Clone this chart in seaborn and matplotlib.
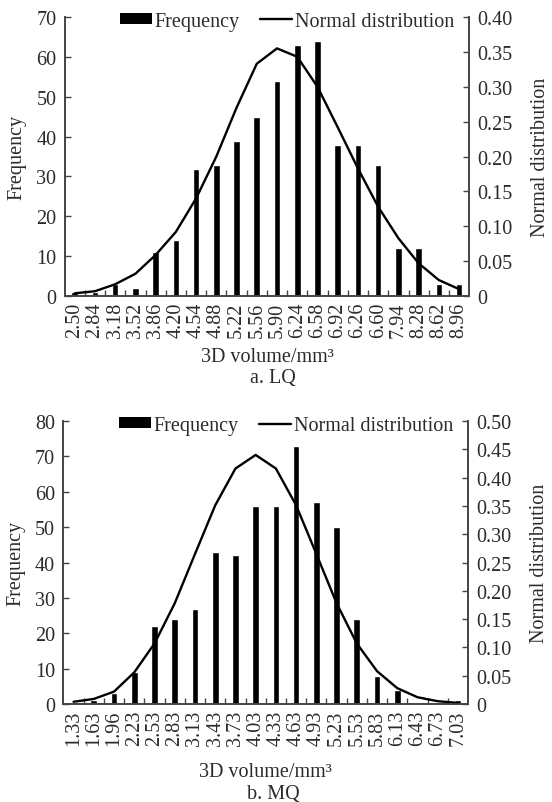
import numpy as np
import pandas as pd
import matplotlib
matplotlib.use("Agg")
import matplotlib.pyplot as plt
import seaborn as sns
from matplotlib.patches import Patch
from matplotlib.lines import Line2D
from matplotlib.ticker import FixedLocator, FuncFormatter

# --- a. LQ ---
lq_labels = ["2.50", "2.84", "3.18", "3.52", "3.86", "4.20", "4.54", "4.88", "5.22", "5.56",
             "5.90", "6.24", "6.58", "6.92", "6.26", "6.60", "7.94", "8.28", "8.62", "8.96"]
lq_freq = [1, 1, 3, 2, 11, 14, 32, 33, 39, 45, 54, 63, 64, 38, 38, 33, 12, 12, 3, 3]
lq_normal = [0.004, 0.007, 0.017, 0.032, 0.059, 0.092, 0.140, 0.200, 0.270, 0.333,
             0.355, 0.343, 0.300, 0.242, 0.183, 0.128, 0.083, 0.047, 0.023, 0.010]

# --- b. MQ ---
mq_labels = ["1.33", "1.63", "1.96", "2.23", "2.53", "2.83", "3.13", "3.43", "3.73", "4.03",
             "4.33", "4.63", "4.93", "5.23", "5.53", "5.83", "6.13", "6.43", "6.73", "7.03"]
mq_freq = [0, 1, 3, 9, 22, 24, 27, 43, 42, 56, 56, 73, 57, 50, 24, 8, 4, 0, 0, 1]
mq_normal = [0.004, 0.009, 0.022, 0.056, 0.107, 0.178, 0.265, 0.351, 0.416, 0.440,
             0.416, 0.351, 0.265, 0.178, 0.107, 0.058, 0.028, 0.012, 0.005, 0.002]

sns.set_theme(style="white")
plt.rcParams["font.family"] = ["Liberation Serif", "DejaVu Serif"]
plt.rcParams["font.size"] = 14.5

TXT = "#2b2b2b"
SP = "#444444"
FS = 14.5

fig = plt.figure(figsize=(5.52, 8.03), dpi=100)


def panel(rect, labels, freq, normal, ymax, y2max, caption, cap_y, xpad):
    n = len(labels)
    df = pd.DataFrame({"pos": np.arange(n), "freq": freq, "normal": normal})

    ax = fig.add_axes(rect)
    sns.barplot(data=df, x="pos", y="freq", ax=ax, color="black",
                width=0.33, saturation=1, errorbar=None)
    ax2 = ax.twinx()
    sns.lineplot(data=df, x="pos", y="normal", ax=ax2, color="black", lw=1.7)

    ax.set_xlim(-0.5, n - 0.5)
    ax.set_ylim(0, ymax)
    ax2.set_ylim(0, y2max)
    ax.set_yticks(np.arange(0, ymax + 1, 10))
    ax2.set_yticks(np.arange(0, y2max + 0.001, 0.05))
    ax2.yaxis.set_major_formatter(FuncFormatter(lambda v, p: "0" if abs(v) < 1e-9 else f"{v:.2f}"))

    ax.set_xticks(np.arange(n))
    ax.set_xticklabels(labels, rotation=90)
    ax.xaxis.set_minor_locator(FixedLocator(np.arange(n - 1) + 0.5))
    ax.tick_params(axis="x", which="major", length=0, pad=4, labelsize=FS, colors=TXT)
    ax.tick_params(axis="x", which="minor", direction="in", length=4, width=1, color=SP, bottom=True)
    ax.tick_params(axis="y", direction="in", length=4, width=1, color=SP, labelcolor=TXT,
                   labelsize=FS, pad=6, left=True)
    ax2.tick_params(axis="y", direction="in", length=4, width=1, color=SP, labelcolor=TXT,
                    labelsize=FS, pad=6, right=True)

    for a in (ax, ax2):
        a.spines["top"].set_visible(False)
        for s in ("left", "right", "bottom"):
            a.spines[s].set_color(SP)
            a.spines[s].set_linewidth(1.2)

    ax.set_xlabel("3D volume/mm³", fontsize=FS, labelpad=xpad, color=TXT)
    ax.set_ylabel("Frequency", fontsize=FS, labelpad=7, color=TXT)
    ax2.set_ylabel("Normal distribution", fontsize=FS, labelpad=13, color=TXT)

    handles = [Patch(facecolor="black", edgecolor="none"),
               Line2D([], [], color="black", lw=1.7)]
    leg = ax2.legend(handles, ["Frequency", "Normal distribution"], ncol=2, frameon=False,
                     loc="center", bbox_to_anchor=(0.55, 0.985), fontsize=FS,
                     handlelength=1.6, handleheight=0.42, handletextpad=0.15,
                     columnspacing=1.0, borderpad=0)
    for t in leg.get_texts():
        t.set_color(TXT)

    fig.text(0.495, cap_y, caption, ha="center", va="center", fontsize=FS, color=TXT)


panel([0.117, 0.630, 0.733, 0.3476], lq_labels, lq_freq, lq_normal, 70, 0.40,
      "a. LQ", 1 - 379 / 803, 7)
panel([0.115, 0.122, 0.733, 0.3525], mq_labels, mq_freq, mq_normal, 80, 0.50,
      "b. MQ", 1 - 795 / 803, 12)

fig.savefig("out.png", dpi=100)
